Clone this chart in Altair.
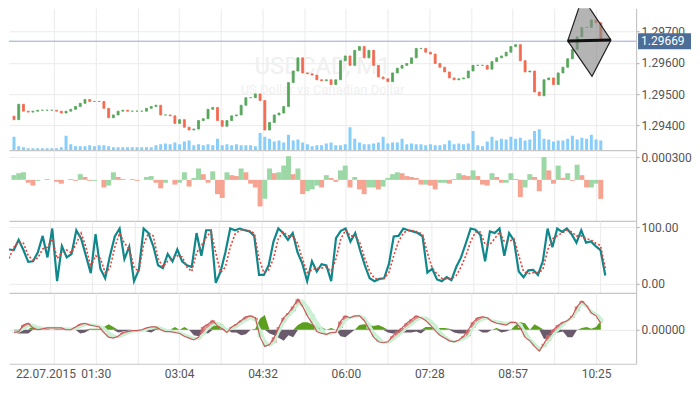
import json
import numpy as np
import pandas as pd
import altair as alt

# ---------------- data (one sample every 5 minutes) ----------------
t = list(range(0, 625, 5))  # minute index of each sample

first_open = 1.29430
close = [
    1.29419, 1.29468, 1.29446, 1.29443, 1.29446, 1.29449, 1.29449, 1.29449, 1.29449, 1.29446,
    1.29440, 1.29446, 1.29452, 1.29461, 1.29471, 1.29483, 1.29477, 1.29477, 1.29477, 1.29455,
    1.29425, 1.29434, 1.29446, 1.29449, 1.29446, 1.29446, 1.29446, 1.29446, 1.29455, 1.29461,
    1.29465, 1.29434, 1.29434, 1.29431, 1.29407, 1.29419, 1.29395, 1.29386, 1.29389, 1.29416,
    1.29422, 1.29452, 1.29458, 1.29416, 1.29398, 1.29416, 1.29431, 1.29434, 1.29465, 1.29489,
    1.29489, 1.29501, 1.29480, 1.29386, 1.29410, 1.29434, 1.29440, 1.29461, 1.29537, 1.29574,
    1.29616, 1.29568, 1.29565, 1.29561, 1.29546, 1.29543, 1.29546, 1.29531, 1.29546, 1.29607,
    1.29622, 1.29592, 1.29640, 1.29652, 1.29616, 1.29640, 1.29592, 1.29555, 1.29549, 1.29540,
    1.29568, 1.29583, 1.29592, 1.29598, 1.29616, 1.29646, 1.29646, 1.29634, 1.29628, 1.29598,
    1.29586, 1.29571, 1.29552, 1.29546, 1.29549, 1.29552, 1.29574, 1.29592, 1.29592, 1.29592,
    1.29580, 1.29604, 1.29616, 1.29622, 1.29634, 1.29652, 1.29658, 1.29607, 1.29571, 1.29574,
    1.29507, 1.29495, 1.29546, 1.29552, 1.29531, 1.29568, 1.29586, 1.29613, 1.29643, 1.29683,
    1.29713, 1.29713, 1.29737, 1.29728, 1.29677,
]
volume = [
    56, 16, 12, 8, 8, 8, 8, 8, 8, 8,
    12, 60, 24, 16, 16, 16, 20, 16, 20, 20,
    16, 12, 12, 12, 12, 12, 12, 12, 12, 12,
    20, 24, 28, 24, 32, 24, 36, 40, 20, 24,
    20, 24, 20, 48, 20, 24, 20, 24, 20, 20,
    20, 16, 72, 56, 48, 36, 40, 32, 64, 40,
    44, 32, 24, 16, 20, 20, 28, 32, 20, 20,
    24, 96, 48, 32, 24, 24, 28, 32, 56, 28,
    32, 32, 48, 24, 28, 24, 24, 20, 24, 20,
    20, 24, 40, 24, 28, 24, 28, 80, 20, 16,
    36, 56, 40, 48, 44, 56, 48, 52, 40, 44,
    80, 88, 48, 44, 36, 40, 40, 48, 60, 44,
    52, 48, 64, 44, 40,
]
osc_e6 = [
    62, 88, 100, -38, -75, -12, 0, 12, 0, -25,
    -50, 0, 12, -12, 75, 38, -12, -12, 0, -100,
    -75, 100, 38, 12, 0, 12, -12, 0, 38, 50,
    -38, -112, -38, 0, -62, -38, 100, -88, 25, 150,
    75, -38, 112, -188, -238, 100, 62, 50, 150, 100,
    -50, -100, -350, -250, 150, 88, 100, 188, 312, 75,
    150, -188, -150, -125, -75, -100, 62, 25, -25, 125,
    188, -100, 38, -125, -188, -100, -100, -125, -88, 25,
    75, 100, 88, 50, 38, 25, -62, -62, -75, -125,
    -38, -38, -50, 12, 88, 62, 50, 125, 50, -62,
    -75, 88, 38, -38, -38, 88, 12, -225, -100, 75,
    38, -150, 300, 125, -50, 188, 25, 88, -12, 200,
    62, -100, -100, -50, -250,
]
stoch_main = [
    61, 60, 78, 60, 39, 40, 56, 85, 47, 98,
    5, 67, 47, 53, 95, 80, 50, 19, 88, 27,
    10, 50, 84, 98, 44, 66, 5, 25, 98, 90,
    67, 33, 28, 53, 40, 61, 40, 33, 30, 90,
    50, 95, 95, 2, 22, 56, 98, 95, 98, 95,
    93, 85, 16, 16, 33, 75, 98, 90, 78, 90,
    56, 36, 5, 40, 22, 35, 33, 5, 81, 94,
    98, 75, 90, 60, 33, 10, 5, 9, 10, 35,
    84, 85, 98, 95, 93, 90, 84, 20, 27, 8,
    5, 12, 7, 30, 47, 72, 98, 96, 87, 40,
    93, 90, 98, 50, 90, 77, 22, 12, 24, 25,
    16, 40, 98, 65, 98, 92, 98, 88, 73, 95,
    73, 75, 67, 60, 15,
]
stoch_signal = [
    45, 65, 75, 72, 50, 42, 46, 62, 65, 80,
    45, 55, 60, 55, 72, 90, 65, 30, 50, 45,
    20, 28, 65, 90, 72, 62, 30, 22, 70, 90,
    85, 45, 30, 40, 45, 50, 48, 30, 22, 55,
    68, 82, 93, 55, 20, 30, 65, 88, 95, 96,
    94, 90, 45, 20, 25, 45, 80, 92, 85, 85,
    72, 45, 20, 25, 28, 28, 30, 22, 45, 80,
    95, 85, 85, 72, 45, 22, 10, 8, 10, 20,
    50, 75, 90, 95, 94, 92, 88, 55, 28, 18,
    10, 9, 9, 15, 30, 50, 75, 92, 92, 70,
    70, 80, 92, 75, 75, 80, 50, 22, 18, 20,
    20, 25, 60, 80, 85, 90, 95, 92, 85, 85,
    80, 78, 72, 68, 28,
]
macd_main_e5 = [
    -3, -2, 5, 7, 2, 0, 1, 2, 2, 2,
    2, 0, 0, 3, 6, 7, 5, 4, 3, -3,
    -8, -9, -7, -3, -2, -1, -1, 0, 2, 3,
    3, 0, -2, -2, -3, -4, -7, -9, -11, -8,
    3, 6, 10, 4, 1, -3, 3, 6, 10, 14,
    15, 13, -8, -18, -16, -8, 3, 13, 18, 25,
    33, 25, 15, 7, -2, -4, -5, -3, -3, 9,
    15, 13, 15, 15, 10, 1, -8, -13, -14, -13,
    -7, -2, 2, 7, 11, 15, 13, 10, 5, -1,
    -6, -9, -12, -13, -11, -7, 0, 8, 13, 14,
    13, 9, 7, 6, 5, 8, 8, 2, -8, -12,
    -18, -23, -15, -6, 0, 5, 8, 10, 15, 25,
    31, 26, 18, 15, 7,
]
macd_signal_e5 = [
    -2, -2, 1, 4, 5, 3, 2, 2, 2, 2,
    2, 1, 1, 1, 3, 5, 6, 5, 4, 2,
    -3, -6, -8, -6, -4, -2, -1, -1, 0, 2,
    3, 2, 0, -1, -2, -3, -5, -7, -9, -10,
    -5, 1, 5, 7, 4, 0, 1, 3, 7, 10,
    13, 10, 0, -12, -17, -14, -2, 8, 15, 20,
    27, 31, 25, 17, 8, 1, -5, -4, -2, 2,
    10, 13, 14, 15, 13, 6, -3, -8, -13, -14,
    -11, -7, -3, 2, 6, 10, 13, 13, 10, 5,
    -2, -7, -11, -13, -12, -10, -7, 2, 8, 11,
    12, 10, 9, 8, 7, 8, 7, 6, -2, -10,
    -15, -20, -18, -12, -5, 0, 5, 10, 13, 20,
    28, 25, 20, 17, 13,
]
macd_hist_e5 = [
    -3, -4, -4, -4, 5, 3, 0, 1, 0, 1,
    2, 1, 1, 0, -4, -3, 1, 1, 1, 3,
    6, 3, -3, -2, -1, 0, 0, 0, -2, -3,
    2, 3, 0, 0, 3, 0, 3, 0, -6, -7,
    -3, -4, 7, 8, 6, 0, -3, -3, -6, -5,
    0, 1, 12, 16, -4, -6, -9, -12, -6, -8,
    5, 8, 8, 6, 4, 3, 0, 2, 0, -7,
    -8, -4, 0, 5, 6, 5, 4, 5, 3, -3,
    -4, -4, -3, -3, -3, -2, -4, 3, 3, 2,
    2, 2, 1, -3, -4, -4, -4, 0, 0, -3,
    -3, 0, 2, -3, -2, 0, 5, 8, 7, 0,
    6, 3, -10, -9, -4, -3, -2, -8, -8, 0,
    2, 3, 1, 3, 10,
]

# axis ticks / labels
tick_pos = [42.3, 86.4, 130.4, 174.5, 218.5, 262.6, 306.6, 350.7, 394.7, 438.8, 482.8, 526.9, 570.9, 615.0]
tick_text = ["", "01:30", "", "03:04", "", "04:32", "", "06:00", "", "07:28", "", "08:57", "", "10:25"]
date_label = "22.07.2015"
price_ticks = [1.294, 1.295, 1.296, 1.297]
last_price = 1.29669

# diamond drawing object: left, top, right, bottom vertices (minute, price)
diamond_t = [585.0, 600.6, 630.7, 610.7]
diamond_p = [1.29670, 1.29809, 1.29673, 1.29557]

symbol = "USDCAD, M1"
symbol_desc = "US Dollar vs Canadian Dollar"

for arr in (close, volume, osc_e6, stoch_main, stoch_signal, macd_main_e5, macd_signal_e5, macd_hist_e5):
    assert len(arr) == len(t), len(arr)

# ---------------- frames ----------------
df = pd.DataFrame({"t": t, "close": close, "volume": volume})
df["open"] = [first_open] + close[:-1]
df["dir"] = np.where(df["close"] >= df["open"], "c_up", "c_down")
df["osc"] = np.array(osc_e6) / 1e6
prev = np.concatenate([[osc_e6[0] - 1], osc_e6[:-1]])
df["osc_dir"] = np.where(np.array(osc_e6) >= prev, "o_up", "o_down")
df["k"] = stoch_main
df["d"] = stoch_signal
df["macd"] = np.array(macd_main_e5) / 1e5
df["sig"] = np.array(macd_signal_e5) / 1e5
df["hist"] = np.array(macd_hist_e5) / 1e5
df["hpos"] = df["hist"].clip(lower=0)
df["hneg"] = df["hist"].clip(upper=0)
df["zero"] = 0.0
df["band_dir"] = np.where(df["macd"] >= df["sig"], "b_up", "b_down")

W = 628
H1, H2, H3, H4 = 142, 71, 72, 71
FONT = "Roboto"
FS = 12
GRID = "#ebebeb"
DOMAIN = "#c6c6c6"

x_dom = [0, 652]
label_expr = f"{json.dumps(tick_text)}[indexof({json.dumps(tick_pos)}, datum.value)]"


def xenc(bottom=False):
    if bottom:
        ax = alt.Axis(values=tick_pos, labelExpr=label_expr, grid=True, ticks=False, domain=True,
                      title=None, labelPadding=5, labelOverlap=False, labelFlush=False)
    else:
        ax = alt.Axis(values=tick_pos, labels=False, grid=True, ticks=False, domain=True,
                      title=None, minExtent=0, maxExtent=0)
    return alt.X("t:Q", scale=alt.Scale(domain=x_dom, nice=False, zero=False), axis=ax)


def yaxis(values, fmt):
    return alt.Axis(orient="right", values=values, format=fmt, title=None, grid=True, tickSize=3, labelPadding=2)


# ---------------- panel 1: price ----------------
p_dom = [1.29322, 1.29774]
p_scale = alt.Scale(domain=p_dom, nice=False, zero=False)
p_axis = yaxis(price_ticks, ".5f")

base = alt.Chart(df)

vol = base.mark_bar(width=3, color="#87cefa", clip=True).encode(
    x=xenc(),
    y=alt.Y("volume:Q", scale=alt.Scale(domain=[0, 597], nice=False), axis=None),
)

wm = pd.DataFrame({"t": [326, 326], "p": [1.29563, 1.29501], "txt": [symbol, symbol_desc], "sz": [24, 13]})
water = alt.Chart(wm).mark_text(color="#f0f0f0", font=FONT, baseline="alphabetic").encode(
    x=xenc(), y=alt.Y("p:Q", scale=p_scale, axis=p_axis), text="txt:N",
    size=alt.Size("sz:Q", scale=None, legend=None),
)

hline = alt.Chart(pd.DataFrame({"p": [last_price]})).mark_rule(color="#97a9c8", strokeWidth=1).encode(
    y=alt.Y("p:Q", scale=p_scale, axis=p_axis)
)

cdl_scale = alt.Scale(domain=["c_up", "c_down"], range=["#56a65b", "#f26a50"])
candles = base.mark_bar(width=2, strokeWidth=0.8, clip=True).encode(
    x=xenc(),
    y=alt.Y("open:Q", scale=p_scale, axis=p_axis),
    y2="close:Q",
    color=alt.Color("dir:N", scale=cdl_scale, legend=None),
    stroke=alt.Stroke("dir:N", scale=cdl_scale, legend=None),
)

bx = sorted(diamond_t)
upper = np.interp(bx, [diamond_t[0], diamond_t[1], diamond_t[2]], [diamond_p[0], diamond_p[1], diamond_p[2]])
lower = np.interp(bx, [diamond_t[0], diamond_t[3], diamond_t[2]], [diamond_p[0], diamond_p[3], diamond_p[2]])
dia = pd.DataFrame({"t": bx, "up": upper, "lo": lower})
diamond = alt.Chart(dia).mark_area(color="#8c8c8c", fillOpacity=0.65, stroke="#222222", strokeWidth=1.2,
                                   clip=True).encode(
    x=xenc(), y=alt.Y("up:Q", scale=p_scale, axis=p_axis), y2="lo:Q"
)
axis_line = alt.Chart(pd.DataFrame({"t": [diamond_t[0], diamond_t[2]], "p": [diamond_p[0], diamond_p[2]]})).mark_line(
    color="#111111", strokeWidth=3).encode(x=xenc(), y=alt.Y("p:Q", scale=p_scale, axis=p_axis))

half = 8 * (p_dom[1] - p_dom[0]) / H1
tag_df = pd.DataFrame({"p": [last_price], "p1": [last_price + half], "p2": [last_price - half],
                       "txt": [f"{last_price:.5f}"]})
tag_box = alt.Chart(tag_df).mark_rect(color="#4b6d97").encode(
    x=alt.value(W + 2), x2=alt.value(W + 55),
    y=alt.Y("p1:Q", scale=p_scale, axis=p_axis), y2="p2:Q",
)
tag_txt = alt.Chart(tag_df).mark_text(color="white", align="left", baseline="middle", fontSize=FS, font=FONT).encode(
    x=alt.value(W + 5), y=alt.Y("p:Q", scale=p_scale, axis=p_axis), text="txt:N"
)

price_layers = alt.layer(water, hline, candles, diamond, axis_line, tag_box, tag_txt)
panel1 = alt.layer(vol, price_layers).resolve_scale(y="independent").properties(width=W, height=H1)

# ---------------- panel 2: oscillator histogram ----------------
o_scale = alt.Scale(domain=[-0.000541, 0.0003925], nice=False, zero=False)
panel2 = base.mark_bar(width=5, clip=True).encode(
    x=xenc(),
    y=alt.Y("osc:Q", scale=o_scale, axis=yaxis([0.0003], ".6f")),
    y2="zero:Q",
    color=alt.Color("osc_dir:N", scale=alt.Scale(domain=["o_up", "o_down"], range=["#9bd8a6", "#f7a392"]),
                    legend=None),
).properties(width=W, height=H2)

# ---------------- panel 3: stochastic ----------------
s_scale = alt.Scale(domain=[-15.7, 111.4], nice=False, zero=False)
s_axis = yaxis([0, 100], ".2f")
k_line = base.mark_line(color="#10878a", strokeWidth=2.2, clip=True).encode(
    x=xenc(), y=alt.Y("k:Q", scale=s_scale, axis=s_axis))
d_line = base.mark_line(color="#e5433a", strokeWidth=1.6, strokeDash=[2, 2], clip=True).encode(
    x=xenc(), y=alt.Y("d:Q", scale=s_scale, axis=s_axis))
panel3 = alt.layer(k_line, d_line).properties(width=W, height=H3)

# ---------------- panel 4: MACD ----------------
m_scale = alt.Scale(domain=[-0.000367, 0.000398], nice=False, zero=False)
m_axis = yaxis([0], ".5f")
h_pos = base.mark_area(color="#5c9e1e", clip=True).encode(
    x=xenc(True), y=alt.Y("hpos:Q", scale=m_scale, axis=m_axis), y2="zero:Q")
h_neg = base.mark_area(color="#6a5b6c", clip=True).encode(
    x=xenc(True), y=alt.Y("hneg:Q", scale=m_scale, axis=m_axis), y2="zero:Q")
band = base.mark_bar(width=5, opacity=0.9, clip=True).encode(
    x=xenc(True), y=alt.Y("macd:Q", scale=m_scale, axis=m_axis), y2="sig:Q",
    color=alt.Color("band_dir:N", scale=alt.Scale(domain=["b_up", "b_down"], range=["#d98080", "#c8f0d2"]),
                    legend=None),
)
sig_line = base.mark_line(color="#c8f0d2", strokeWidth=2.5, clip=True).encode(
    x=xenc(True), y=alt.Y("sig:Q", scale=m_scale, axis=m_axis))
main_line = base.mark_line(color="#c85a5a", strokeWidth=1.2, clip=True).encode(
    x=xenc(True), y=alt.Y("macd:Q", scale=m_scale, axis=m_axis))
date_txt = alt.Chart(pd.DataFrame({"t": [2.0], "txt": [date_label]})).mark_text(
    align="left", baseline="top", fontSize=FS, color="#555555", font=FONT).encode(
    x=xenc(True), y=alt.value(H4 + 5), text="txt:N")
panel4 = alt.layer(h_pos, h_neg, band, sig_line, main_line, date_txt).properties(width=W, height=H4)

chart = alt.vconcat(panel1, panel2, panel3, panel4, spacing=0, bounds="flush").properties(
    padding={"left": 0, "top": 0, "right": 0, "bottom": 0}
).resolve_scale(color="independent", stroke="independent").configure_view(stroke=None).configure_axis(
    labelFont=FONT, labelFontSize=FS, labelColor="#555555", gridColor=GRID, gridWidth=1,
    domainColor=DOMAIN, domainWidth=1.2, tickColor="#aaaaaa",
)

chart.save("out.html", embed_options={"renderer": "svg", "actions": False})
